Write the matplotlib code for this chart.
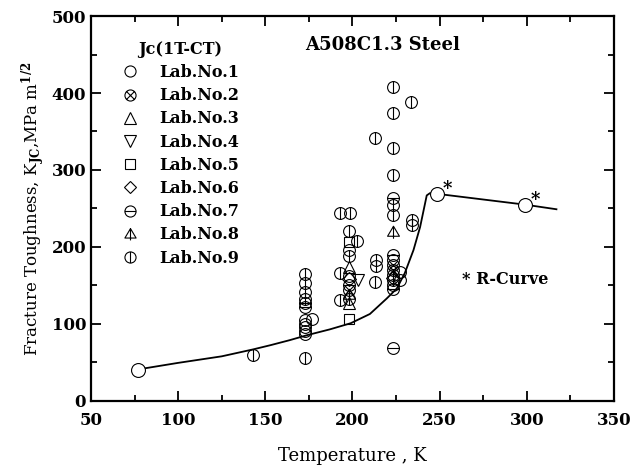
import numpy as np
import matplotlib
matplotlib.use("Agg")
import matplotlib.pyplot as plt
from matplotlib.path import Path
from matplotlib.lines import Line2D

plt.rcParams['font.family'] = ['DejaVu Serif']
plt.rcParams['font.weight'] = 'bold'
plt.rcParams['mathtext.fontset'] = 'dejavuserif'
plt.rcParams['mathtext.default'] = 'bf'

# Jc(1T-CT) results per laboratory: temperature (K), toughness (MPa m^1/2)
lab1_T = [173, 176.6, 173, 173, 173, 173, 198, 198, 227.3, 227.3, 223, 223]
lab1_K = [105, 106.5, 100, 95.7, 91.3, 87, 196, 162, 168, 157, 183, 150.6]
lab2_T = [198, 223, 223]
lab2_K = [144, 170, 176.6]
lab3_T = [198, 198]
lab3_K = [174.4, 127]
lab4_T = [203.4]
lab4_K = [157]
lab5_T = [198, 198]
lab5_K = [106, 207]
lab6_T = [198, 223]
lab6_K = [158, 160]
lab7_T = [173, 173, 198, 223, 223, 223, 223]
lab7_K = [127, 121.7, 150.6, 263, 68.4, 189.6, 146]
lab8_T = [223, 198]
lab8_K = [220, 138]
lab9_T = [173, 173, 173, 173, 143, 173,
          192.9, 198.6, 198, 202.4, 198, 192.9, 213, 192.9, 198, 213.5, 213.5,
          223, 233.4, 223, 213, 223, 223, 223, 223, 234, 234, 223, 223]
lab9_K = [165, 152.8, 142, 133, 60, 55.4,
          244.6, 243.7, 220.8, 207.8, 188, 165.8, 155, 131, 133, 183, 175,
          408, 388.7, 373.6, 341, 328, 293.5, 254.5, 241.6, 235, 228, 163.6, 157]

# open circles lying on the curve (R-curve and lowest temperature)
curve_pt_T = [77, 248.7, 299]
curve_pt_K = [40, 269, 255]

# fitted toughness-temperature curve
curve_T = [77, 100, 125, 143, 153, 164, 174, 187, 199, 210, 219.6, 225.4,
           230, 235, 238.8, 242.6, 244.5, 248.7, 299, 317]
curve_K = [41, 49.5, 58, 67, 72.5, 79, 85.5, 93, 101, 113, 133, 146,
           166, 196, 226, 267, 270, 269, 255, 249]

lab_names = ["Lab.No.%d" % i for i in range(1, 10)]

# marker shapes
circ = Path.unit_circle()
M, L = Path.MOVETO, Path.LINETO
circ_v = Path.make_compound_path(circ, Path([[0, -1], [0, 1]], [M, L]))
circ_h = Path.make_compound_path(circ, Path([[-1, 0], [1, 0]], [M, L]))
circ_x = Path.make_compound_path(
    circ, Path([[-0.707, -0.707], [0.707, 0.707], [-0.707, 0.707], [0.707, -0.707]],
               [M, L, M, L]))
tri_v = Path([[0, 1], [-0.95, -0.6], [0.95, -0.6], [0, 1], [0, -1]],
             [M, L, L, L, L])

markers = ['o', circ_x, '^', 'v', 's', 'D', circ_h, tri_v, circ_v]
sizes = [8.5, 8.5, 9, 9, 7.5, 7, 8.5, 9, 8.5]
legend_sizes = [8, 8, 8.5, 8.5, 7, 6.5, 8, 8.5, 8]
data = [(lab1_T, lab1_K), (lab2_T, lab2_K), (lab3_T, lab3_K), (lab4_T, lab4_K),
        (lab5_T, lab5_K), (lab6_T, lab6_K), (lab7_T, lab7_K), (lab8_T, lab8_K),
        (lab9_T, lab9_K)]

fig = plt.figure(figsize=(6.31, 4.68), dpi=100)
ax = fig.add_axes([0.1442, 0.1432, 0.8288, 0.8226])

ax.plot(curve_T, curve_K, color='black', lw=1.3, zorder=2)

for (T, K), m, s in zip(data, markers, sizes):
    ax.plot(T, K, linestyle='none', marker=m, markersize=s, mfc='none',
            mec='black', mew=0.8, zorder=3)

ax.plot(curve_pt_T, curve_pt_K, linestyle='none', marker='o', markersize=10,
        mfc='white', mec='black', mew=0.8, zorder=4)
for T, K in zip(curve_pt_T[1:], curve_pt_K[1:]):
    ax.text(T + 3, K + 6, '*', fontsize=13, ha='left', va='center')

ax.text(263, 158, '* R-Curve', fontsize=11.5, ha='left', va='center')
ax.text(217, 462, 'A508C1.3 Steel', fontsize=13, ha='center', va='center')

handles = [Line2D([], [], linestyle='none', marker=m, markersize=s, mfc='none',
                  mec='black', mew=0.8) for m, s in zip(markers, legend_sizes)]
leg = ax.legend(handles, lab_names, title='Jc(1T-CT)', loc='upper left',
                bbox_to_anchor=(0.038, 0.965), frameon=False, fontsize=11.5,
                title_fontsize=11.5, labelspacing=0.39, handletextpad=1.3,
                handlelength=1.0, borderpad=0.2)
leg.get_title().set_fontweight('bold')

ax.set_xlim(50, 350)
ax.set_ylim(0, 500)
ax.set_xticks(np.arange(50, 351, 50))
ax.set_xticks(np.arange(75, 350, 50), minor=True)
ax.set_yticks(np.arange(0, 501, 100))
ax.set_yticks(np.arange(50, 500, 100), minor=True)
ax.tick_params(which='both', direction='in', top=True, right=True, width=1.3,
               labelsize=12)
ax.tick_params(axis='x', which='major', pad=8)
ax.tick_params(which='major', length=7)
ax.tick_params(which='minor', length=4)
for sp in ax.spines.values():
    sp.set_linewidth(1.6)

ax.set_xlabel('Temperature , K', fontsize=13, labelpad=13)
ax.set_ylabel('Fracture Toughness, K$_{JC}$,MPa m$^{1/2}$', fontsize=12,
              labelpad=3)

fig.savefig('out.png', dpi=100)
